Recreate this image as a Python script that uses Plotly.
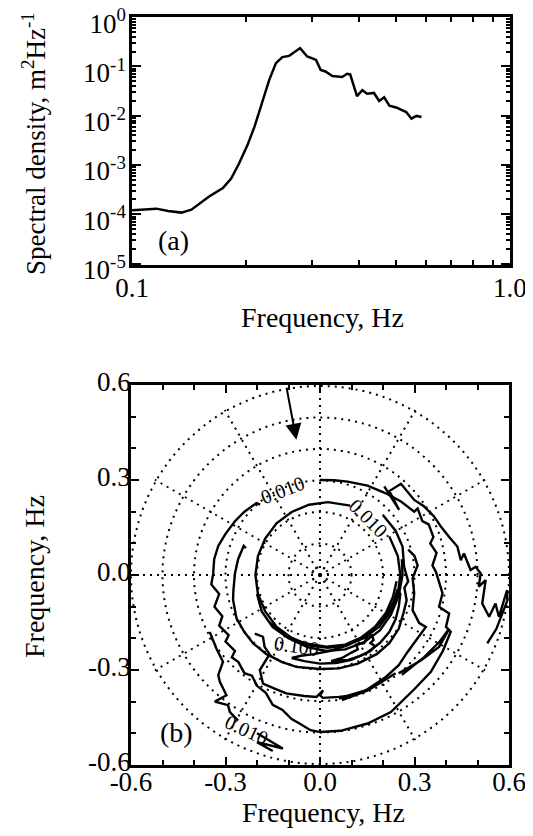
import plotly.graph_objects as go

# ---- panel (a): frequency spectrum ----
freq = [0.100, 0.1161, 0.1246, 0.1351, 0.1436, 0.151, 0.160, 0.174, 0.183, 0.192,
        0.202, 0.211, 0.2216, 0.2307, 0.2404, 0.250, 0.2606, 0.2786, 0.291, 0.300,
        0.307, 0.3158, 0.325, 0.339, 0.360, 0.371, 0.378, 0.394, 0.407, 0.419,
        0.437, 0.451, 0.465, 0.480, 0.500, 0.532, 0.549, 0.566, 0.584]
density = [1.2e-4, 1.3e-4, 1.16e-4, 1.08e-4, 1.24e-4, 1.65e-4, 2.3e-4, 3.4e-4, 5.3e-4, 1.07e-3,
           2.5e-3, 6.0e-3, 0.021, 0.053, 0.117, 0.155, 0.164, 0.236, 0.159, 0.148,
           0.136, 0.085, 0.079, 0.064, 0.061, 0.071, 0.069, 0.025, 0.033, 0.028,
           0.029, 0.020, 0.0237, 0.016, 0.0147, 0.0119, 0.0087, 0.0099, 0.0094]

decades = [1e-5, 1e-4, 1e-3, 1e-2, 1e-1, 1e0]
decade_labels = ["10<sup>-5</sup>", "10<sup>-4</sup>", "10<sup>-3</sup>",
                 "10<sup>-2</sup>", "10<sup>-1</sup>", "10<sup>0</sup>"]
freq_ticks = [0.1, 1.0]
freq_labels = ["0.1", "1.0"]

# ---- panel (b): directional spectrum contours (x, y in Hz) ----
ring_ticks = [-0.6, -0.3, 0.0, 0.3, 0.6]
ring_labels = ["-0.6", "-0.3", "0.0", "0.3", "0.6"]
grid_radii = [0.025, 0.1, 0.2, 0.3, 0.4, 0.5, 0.6]

# big 0.010 loop (open at the label, upper left)
loop_010 = [(0.000, 0.300), (0.045, 0.299), (0.088, 0.295), (0.151, 0.282), (0.209, 0.258),
            (0.257, 0.232), (0.299, 0.200), (0.310, 0.210), (0.325, 0.170), (0.345, 0.160),
            (0.360, 0.120), (0.350, 0.100), (0.370, 0.070), (0.357, 0.030), (0.368, 0.010),
            (0.389, -0.058), (0.378, -0.100), (0.410, -0.122), (0.400, -0.164), (0.415, -0.179),
            (0.390, -0.240), (0.352, -0.306), (0.300, -0.360), (0.225, -0.433), (0.151, -0.469),
            (0.065, -0.492), (0.000, -0.496), (-0.030, -0.490), (-0.065, -0.469), (-0.090, -0.455),
            (-0.119, -0.426), (-0.150, -0.410), (-0.172, -0.372), (-0.200, -0.350), (-0.216, -0.318),
            (-0.240, -0.310), (-0.259, -0.275), (-0.280, -0.260), (-0.270, -0.240), (-0.300, -0.210),
            (-0.290, -0.190), (-0.320, -0.160), (-0.310, -0.130), (-0.335, -0.100), (-0.320, -0.060),
            (-0.345, -0.030), (-0.339, 0.005), (-0.336, 0.050), (-0.323, 0.092), (-0.300, 0.130),
            (-0.270, 0.170), (-0.240, 0.200), (-0.202, 0.227), (-0.190, 0.222)]

# inner 0.010 ring
inner_010 = [(0.096, 0.219), (0.025, 0.230), (-0.035, 0.222), (-0.090, 0.199), (-0.138, 0.163),
             (-0.174, 0.115), (-0.197, 0.060), (-0.205, 0.000), (-0.197, -0.060), (-0.174, -0.115),
             (-0.138, -0.163), (-0.090, -0.199), (-0.035, -0.222), (0.025, -0.230), (0.085, -0.222),
             (0.140, -0.199), (0.188, -0.163), (0.224, -0.115), (0.247, -0.060), (0.255, 0.000),
             (0.247, 0.060), (0.220, 0.122)]

# lines hugging the ring on the lower side
hug_a = [(-0.200, -0.060), (-0.185, -0.115), (-0.150, -0.165), (-0.100, -0.200), (-0.040, -0.228),
         (0.020, -0.240), (0.080, -0.235), (0.140, -0.212), (0.190, -0.175), (0.225, -0.125),
         (0.250, -0.065), (0.262, 0.000), (0.260, 0.050)]
hug_b = [(-0.160, -0.150), (-0.110, -0.190), (-0.050, -0.215), (0.020, -0.226), (0.080, -0.220),
         (0.130, -0.198), (0.175, -0.163), (0.210, -0.118), (0.232, -0.068), (0.243, -0.020)]

# middle crescent
crescent_mid = [(-0.235, 0.085), (-0.242, 0.092), (-0.260, 0.050), (-0.270, 0.005), (-0.275, -0.050),
                (-0.276, -0.079), (-0.265, -0.137), (-0.240, -0.180), (-0.212, -0.216), (-0.170, -0.250),
                (-0.120, -0.275), (-0.075, -0.290), (0.000, -0.297), (0.060, -0.295), (0.120, -0.280),
                (0.180, -0.250), (0.220, -0.215), (0.250, -0.170), (0.265, -0.120), (0.275, -0.080),
                (0.268, -0.040), (0.280, -0.020), (0.267, 0.026), (0.262, 0.090), (0.240, 0.140),
                (0.199, 0.190)]

# 0.100 crescent (closed)
crescent_100 = [(-0.090, -0.262), (-0.050, -0.272), (0.000, -0.280), (0.050, -0.278), (0.100, -0.268),
                (0.150, -0.245), (0.190, -0.215), (0.220, -0.180), (0.240, -0.140), (0.250, -0.100),
                (0.255, -0.060), (0.245, -0.050), (0.235, -0.080), (0.220, -0.110), (0.200, -0.140),
                (0.170, -0.170), (0.130, -0.200), (0.080, -0.225), (0.030, -0.240), (-0.020, -0.250),
                (-0.060, -0.255), (-0.090, -0.262)]

# small hatched crescent inside it
pocket = [(0.035, -0.272), (0.070, -0.262), (0.100, -0.245), (0.120, -0.235), (0.115, -0.220),
          (0.140, -0.215), (0.150, -0.195), (0.165, -0.190), (0.170, -0.205), (0.160, -0.215),
          (0.175, -0.225), (0.160, -0.240), (0.130, -0.255), (0.090, -0.268), (0.035, -0.272)]

# outer crescent
crescent_out = [(-0.207, -0.185), (-0.190, -0.190), (-0.181, -0.195), (-0.176, -0.227), (-0.160, -0.250),
                (-0.191, -0.300), (-0.181, -0.343), (-0.144, -0.359), (-0.107, -0.374), (-0.050, -0.382),
                (-0.011, -0.385), (0.010, -0.364), (0.000, -0.380), (0.009, -0.388), (0.060, -0.385),
                (0.104, -0.380), (0.146, -0.364), (0.209, -0.322), (0.250, -0.285), (0.278, -0.243),
                (0.310, -0.200), (0.336, -0.164), (0.315, -0.152), (0.294, -0.111), (0.299, -0.058),
                (0.294, -0.010), (0.310, 0.030), (0.300, 0.060), (0.280, 0.080)]

# 0.010 fringes
fringe_right = [(0.204, 0.280), (0.251, 0.206), (0.220, 0.265), (0.257, 0.288), (0.299, 0.237),
                (0.330, 0.217), (0.362, 0.185), (0.383, 0.154), (0.410, 0.120), (0.436, 0.090),
                (0.447, 0.047), (0.457, 0.068), (0.478, 0.016), (0.494, 0.026), (0.510, 0.005),
                (0.504, -0.037), (0.526, -0.016), (0.515, -0.090), (0.537, -0.132), (0.557, -0.090),
                (0.568, -0.132), (0.594, -0.048), (0.595, -0.080), (0.560, -0.170), (0.531, -0.216)]
fringe_left = [(-0.350, -0.180), (-0.329, -0.232), (-0.308, -0.274), (-0.323, -0.316), (-0.318, -0.337),
               (-0.297, -0.380), (-0.334, -0.400), (-0.292, -0.411), (-0.286, -0.433), (-0.260, -0.460)]
sliver_low = [(-0.200, -0.500), (-0.118, -0.548), (-0.200, -0.528), (-0.150, -0.556)]
sliver_right = [(0.250, -0.310), (0.320, -0.270), (0.378, -0.227), (0.410, -0.170), (0.380, -0.210),
                (0.330, -0.260), (0.260, -0.315)]
sliver_bottom = [(0.060, -0.390), (0.160, -0.360), (0.240, -0.310), (0.150, -0.365), (0.070, -0.395)]

contours = [loop_010, inner_010, hug_a, hug_b, crescent_mid, crescent_100, pocket,
            crescent_out, fringe_right, fringe_left, sliver_low, sliver_right, sliver_bottom]

# contour labels: (x, y, text, angle)
contour_labels = [(-0.119, 0.269, "0.010", -21), (0.153, 0.180, "0.010", 45),
                  (-0.074, -0.225, "0.100", 8), (-0.233, -0.490, "0.010", 25)]

FONT = "Liberation Serif"
# the page body adds an 8px offset, so the figure is laid out in screen px minus 8
W, H = 525, 828


def px(sx):
    return (sx - 8) / W


def py(sy):
    return 1 - (sy - 8) / H


fig = go.Figure()

fig.add_trace(go.Scatter(x=freq, y=density, mode="lines",
                         line=dict(color="black", width=2.5),
                         xaxis="x", yaxis="y", showlegend=False, hoverinfo="skip"))

for c in contours:
    fig.add_trace(go.Scatter(x=[p[0] for p in c], y=[p[1] for p in c], mode="lines",
                             line=dict(color="black", width=2.4),
                             xaxis="x2", yaxis="y2", showlegend=False, hoverinfo="skip"))

# polar grid overlay (empty trace so the subplot is drawn)
fig.add_trace(go.Scatterpolar(r=[0], theta=[0], mode="lines", showlegend=False,
                              hoverinfo="skip", subplot="polar"))

dots = "2px,5px"
frame = dict(showline=True, linecolor="black", linewidth=2.5, mirror="ticks",
             ticks="inside", tickcolor="black", showgrid=False, zeroline=False,
             ticklabeloverflow="allow",
             tickfont=dict(family=FONT, size=27, color="black"), automargin=False)

minor_freq = [0.2, 0.3, 0.4, 0.5, 0.6, 0.7, 0.8, 0.9]
minor_dens = [m * d for d in decades[:-1] for m in range(2, 10)]

fig.update_layout(
    width=W, height=H,
    margin=dict(l=0, r=0, t=0, b=0),
    paper_bgcolor="white", plot_bgcolor="white",
    font=dict(family=FONT, color="black"),
    xaxis=dict(frame, type="log", range=[-1, 0.0005], domain=[px(132), px(510)],
               tickvals=freq_ticks, ticktext=freq_labels, ticklen=9, tickwidth=2,
               ticklabelstandoff=-3,
               minor=dict(tickvals=minor_freq, ticks="inside", ticklen=5, tickcolor="black", tickwidth=1.5)),
    yaxis=dict(frame, type="log", range=[-5.03, 0.004], domain=[py(265), py(17)],
               tickvals=decades, ticktext=decade_labels, ticklen=9, tickwidth=2,
               ticklabelstandoff=-2, ticklabelshift=6,
               minor=dict(tickvals=minor_dens, ticks="inside", ticklen=4, tickcolor="black", tickwidth=1.5)),
    xaxis2=dict(frame, range=[-0.6, 0.6], domain=[px(131), px(509)], anchor="y2",
                tickvals=ring_ticks, ticktext=ring_labels, ticklen=8, tickwidth=2,
                ticklabelstandoff=-9,
                minor=dict(dtick=0.1, ticks="inside", ticklen=5, tickcolor="black", tickwidth=1.5)),
    yaxis2=dict(frame, range=[-0.6, 0.6], domain=[py(765), py(385)], anchor="x2",
                tickvals=ring_ticks, ticktext=ring_labels, ticklen=8, tickwidth=2,
                ticklabelstandoff=-8, ticklabelshift=-3,
                minor=dict(dtick=0.1, ticks="inside", ticklen=5, tickcolor="black", tickwidth=1.5)),
    polar=dict(
        domain=dict(x=[px(129.4), px(510.6)], y=[py(765.6), py(384.4)]),
        bgcolor="rgba(0,0,0,0)",
        radialaxis=dict(range=[0, 0.605], tickvals=grid_radii, showticklabels=False, ticks="",
                        showline=False, gridcolor="black", griddash=dots, gridwidth=2),
        angularaxis=dict(tickmode="linear", tick0=0, dtick=30, showticklabels=False, ticks="",
                         showline=False, gridcolor="black", griddash=dots, gridwidth=2),
    ),
)

annotations = [
    dict(text="Spectral density, m<sup>2</sup>Hz<sup>-1</sup>", x=px(34), y=py(144), textangle=-90, size=27),
    dict(text="Frequency, Hz", x=px(322), y=py(317)),
    dict(text="(a)", x=px(173), y=py(240)),
    dict(text="Frequency, Hz", x=px(34), y=py(577), textangle=-90),
    dict(text="Frequency, Hz", x=px(323), y=py(812)),
    dict(text="(b)", x=px(176), y=py(732)),
]
for a in annotations:
    size = a.pop("size", 28)
    a.update(xref="paper", yref="paper", xanchor="center", yanchor="middle", showarrow=False,
             font=dict(family=FONT, size=size, color="black"))

for x, y, t, ang in contour_labels:
    annotations.append(dict(text=t, x=x, y=y, xref="x2", yref="y2", showarrow=False, textangle=ang,
                            xanchor="center", yanchor="middle",
                            font=dict(family=FONT, size=20, color="black")))

# wave direction arrow
annotations.append(dict(x=-0.075, y=0.427, ax=-0.107, ay=0.596, xref="x2", yref="y2",
                        axref="x2", ayref="y2", showarrow=True, arrowhead=2, arrowsize=1.6,
                        arrowwidth=2, arrowcolor="black", text=""))

fig.update_layout(annotations=annotations)

fig.write_html("out.html")
